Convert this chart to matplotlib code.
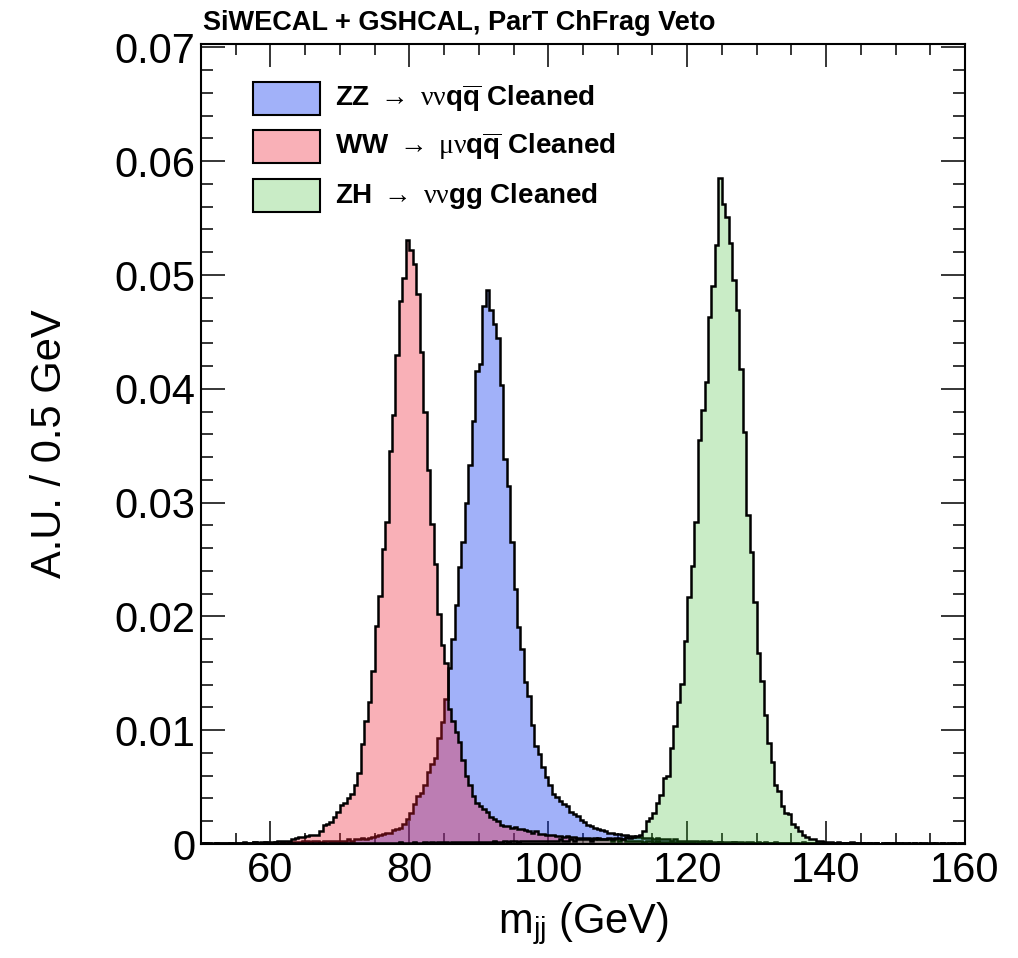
import numpy as np
import matplotlib
matplotlib.use("Agg")
import matplotlib.pyplot as plt
from matplotlib.patches import Rectangle
from matplotlib.ticker import FixedLocator, MultipleLocator

plt.rcParams['font.family'] = ['Liberation Sans', 'DejaVu Sans']
plt.rcParams['mathtext.fontset'] = 'custom'
plt.rcParams['mathtext.rm'] = 'Liberation Serif'
plt.rcParams['mathtext.it'] = 'Liberation Serif:italic'
plt.rcParams['mathtext.bf'] = 'Liberation Sans:bold'
plt.rcParams['mathtext.sf'] = 'Liberation Sans'

# ---------------- data (A.U. per 0.5 GeV bin, 50 -> 160 GeV) ----------------
x_min, x_max, bin_width = 50.0, 160.0, 0.5

ww_values = [
    0.0001, 0.0001, 0.0001, 0.0000, 0.0001, 0.0001, 0.0001, 0.0001, 0.0001, 0.0001,
    0.0001, 0.0001, 0.0002, 0.0001, 0.0001, 0.0002, 0.0001, 0.0002, 0.0002, 0.0002,
    0.0002, 0.0002, 0.0003, 0.0003, 0.0003, 0.0003, 0.0004, 0.0005, 0.0006, 0.0006,
    0.0007, 0.0008, 0.0008, 0.0008, 0.0011, 0.0017, 0.0018, 0.0019, 0.0024, 0.0028,
    0.0034, 0.0036, 0.0040, 0.0044, 0.0052, 0.0062, 0.0088, 0.0108, 0.0125, 0.0152,
    0.0192, 0.0218, 0.0259, 0.0283, 0.0345, 0.0377, 0.0430, 0.0477, 0.0497, 0.0531,
    0.0522, 0.0510, 0.0483, 0.0432, 0.0380, 0.0329, 0.0281, 0.0246, 0.0202, 0.0175,
    0.0159, 0.0119, 0.0108, 0.0098, 0.0090, 0.0074, 0.0060, 0.0052, 0.0042, 0.0036,
    0.0033, 0.0031, 0.0028, 0.0024, 0.0022, 0.0020, 0.0017, 0.0016, 0.0016, 0.0014,
    0.0015, 0.0013, 0.0013, 0.0012, 0.0011, 0.0010, 0.0011, 0.0009, 0.0009, 0.0008,
    0.0008, 0.0008, 0.0007, 0.0007, 0.0006, 0.0007, 0.0006, 0.0006, 0.0005, 0.0005,
    0.0005, 0.0005, 0.0004, 0.0005, 0.0004, 0.0004, 0.0004, 0.0004, 0.0003, 0.0004,
    0.0003, 0.0004, 0.0003, 0.0003, 0.0003, 0.0003, 0.0003, 0.0002, 0.0003, 0.0003,
    0.0002, 0.0003, 0.0002, 0.0002, 0.0002, 0.0002, 0.0002, 0.0002, 0.0002, 0.0002,
    0.0002, 0.0002, 0.0001, 0.0002, 0.0002, 0.0001, 0.0002, 0.0001, 0.0001, 0.0002,
    0.0001, 0.0001, 0.0001, 0.0002, 0.0001, 0.0001, 0.0001, 0.0001, 0.0001, 0.0001,
    0.0001, 0.0001, 0.0001, 0.0001, 0.0001, 0.0000, 0.0001, 0.0001, 0.0001, 0.0001,
    0.0001, 0.0001, 0.0000, 0.0001, 0.0001, 0.0001, 0.0001, 0.0000, 0.0001, 0.0001,
    0.0001, 0.0000, 0.0001, 0.0001, 0.0000, 0.0001, 0.0001, 0.0000, 0.0001, 0.0000,
    0.0001, 0.0000, 0.0001, 0.0000, 0.0001, 0.0000, 0.0000, 0.0001, 0.0000, 0.0001,
    0.0000, 0.0001, 0.0000, 0.0000, 0.0001, 0.0000, 0.0001, 0.0000, 0.0000, 0.0000,
    0.0001, 0.0000, 0.0000, 0.0001, 0.0000, 0.0000, 0.0001, 0.0000, 0.0000, 0.0000,
]

zz_values = [
    0.0001, 0.0001, 0.0001, 0.0001, 0.0001, 0.0001, 0.0001, 0.0001, 0.0000, 0.0001,
    0.0001, 0.0001, 0.0001, 0.0001, 0.0001, 0.0002, 0.0001, 0.0001, 0.0002, 0.0001,
    0.0001, 0.0002, 0.0001, 0.0002, 0.0002, 0.0002, 0.0002, 0.0002, 0.0002, 0.0003,
    0.0003, 0.0002, 0.0003, 0.0003, 0.0002, 0.0003, 0.0003, 0.0003, 0.0003, 0.0003,
    0.0003, 0.0003, 0.0004, 0.0003, 0.0004, 0.0004, 0.0005, 0.0004, 0.0005, 0.0006,
    0.0007, 0.0008, 0.0009, 0.0010, 0.0010, 0.0012, 0.0013, 0.0014, 0.0018, 0.0022,
    0.0027, 0.0035, 0.0042, 0.0045, 0.0052, 0.0063, 0.0070, 0.0076, 0.0093, 0.0107,
    0.0127, 0.0155, 0.0180, 0.0210, 0.0243, 0.0265, 0.0300, 0.0333, 0.0372, 0.0416,
    0.0422, 0.0473, 0.0487, 0.0469, 0.0457, 0.0445, 0.0403, 0.0338, 0.0315, 0.0265,
    0.0224, 0.0191, 0.0171, 0.0142, 0.0130, 0.0105, 0.0086, 0.0079, 0.0068, 0.0059,
    0.0052, 0.0044, 0.0041, 0.0038, 0.0035, 0.0033, 0.0028, 0.0026, 0.0025, 0.0021,
    0.0019, 0.0017, 0.0016, 0.0014, 0.0013, 0.0012, 0.0011, 0.0010, 0.0010, 0.0009,
    0.0009, 0.0008, 0.0008, 0.0007, 0.0007, 0.0006, 0.0006, 0.0005, 0.0005, 0.0005,
    0.0004, 0.0005, 0.0004, 0.0004, 0.0004, 0.0003, 0.0004, 0.0003, 0.0003, 0.0003,
    0.0003, 0.0003, 0.0003, 0.0002, 0.0003, 0.0002, 0.0003, 0.0002, 0.0002, 0.0002,
    0.0002, 0.0002, 0.0002, 0.0002, 0.0002, 0.0002, 0.0001, 0.0002, 0.0002, 0.0001,
    0.0002, 0.0001, 0.0002, 0.0001, 0.0001, 0.0002, 0.0001, 0.0001, 0.0001, 0.0001,
    0.0001, 0.0001, 0.0001, 0.0002, 0.0001, 0.0001, 0.0001, 0.0001, 0.0001, 0.0001,
    0.0001, 0.0001, 0.0001, 0.0000, 0.0001, 0.0001, 0.0001, 0.0001, 0.0000, 0.0001,
    0.0001, 0.0001, 0.0000, 0.0001, 0.0001, 0.0000, 0.0001, 0.0001, 0.0001, 0.0000,
    0.0001, 0.0000, 0.0001, 0.0001, 0.0000, 0.0001, 0.0000, 0.0001, 0.0001, 0.0000,
    0.0001, 0.0001, 0.0000, 0.0001, 0.0000, 0.0001, 0.0001, 0.0000, 0.0001, 0.0001,
]

zh_values = [
    0.0000, 0.0001, 0.0000, 0.0000, 0.0001, 0.0000, 0.0000, 0.0000, 0.0001, 0.0000,
    0.0000, 0.0000, 0.0001, 0.0000, 0.0000, 0.0001, 0.0000, 0.0000, 0.0001, 0.0000,
    0.0000, 0.0001, 0.0000, 0.0001, 0.0000, 0.0001, 0.0001, 0.0000, 0.0001, 0.0001,
    0.0001, 0.0000, 0.0001, 0.0001, 0.0001, 0.0001, 0.0000, 0.0001, 0.0001, 0.0001,
    0.0001, 0.0001, 0.0001, 0.0001, 0.0001, 0.0001, 0.0001, 0.0001, 0.0001, 0.0001,
    0.0001, 0.0001, 0.0001, 0.0001, 0.0001, 0.0001, 0.0001, 0.0002, 0.0001, 0.0001,
    0.0001, 0.0002, 0.0001, 0.0001, 0.0002, 0.0001, 0.0002, 0.0001, 0.0002, 0.0002,
    0.0002, 0.0001, 0.0002, 0.0002, 0.0002, 0.0002, 0.0002, 0.0002, 0.0002, 0.0002,
    0.0002, 0.0002, 0.0002, 0.0002, 0.0003, 0.0002, 0.0002, 0.0003, 0.0002, 0.0003,
    0.0003, 0.0002, 0.0003, 0.0003, 0.0003, 0.0003, 0.0003, 0.0003, 0.0003, 0.0003,
    0.0003, 0.0003, 0.0003, 0.0004, 0.0003, 0.0003, 0.0004, 0.0003, 0.0004, 0.0004,
    0.0004, 0.0004, 0.0003, 0.0004, 0.0005, 0.0004, 0.0004, 0.0005, 0.0004, 0.0005,
    0.0005, 0.0004, 0.0006, 0.0005, 0.0006, 0.0007, 0.0008, 0.0011, 0.0020, 0.0023,
    0.0027, 0.0036, 0.0043, 0.0058, 0.0060, 0.0084, 0.0104, 0.0125, 0.0141, 0.0178,
    0.0217, 0.0244, 0.0283, 0.0355, 0.0381, 0.0406, 0.0463, 0.0490, 0.0526, 0.0585,
    0.0562, 0.0551, 0.0528, 0.0496, 0.0469, 0.0417, 0.0362, 0.0289, 0.0257, 0.0213,
    0.0168, 0.0143, 0.0113, 0.0089, 0.0072, 0.0052, 0.0047, 0.0033, 0.0027, 0.0026,
    0.0018, 0.0015, 0.0011, 0.0008, 0.0006, 0.0004, 0.0004, 0.0003, 0.0003, 0.0002,
    0.0002, 0.0002, 0.0001, 0.0002, 0.0001, 0.0001, 0.0001, 0.0002, 0.0001, 0.0001,
    0.0001, 0.0001, 0.0001, 0.0001, 0.0001, 0.0000, 0.0001, 0.0001, 0.0000, 0.0001,
    0.0001, 0.0000, 0.0001, 0.0001, 0.0000, 0.0001, 0.0000, 0.0001, 0.0001, 0.0000,
    0.0000, 0.0001, 0.0001, 0.0000, 0.0001, 0.0000, 0.0001, 0.0000, 0.0001, 0.0001,
]

series_labels = [
    r'ZZ $\rightarrow$ $\mathrm{\nu\nu}\mathbf{q}\overline{\mathbf{q}}$ Cleaned',
    r'WW $\rightarrow$ $\mathrm{\mu\nu}\mathbf{q}\overline{\mathbf{q}}$ Cleaned',
    r'ZH $\rightarrow$ $\mathrm{\nu\nu}\mathbf{gg}$ Cleaned',
]
x_ticks = [60, 80, 100, 120, 140, 160]
x_tick_labels = ['60', '80', '100', '120', '140', '160']
y_ticks = [0.0, 0.01, 0.02, 0.03, 0.04, 0.05, 0.06, 0.07]
y_tick_labels = ['0', '0.01', '0.02', '0.03', '0.04', '0.05', '0.06', '0.07']
title_text = 'SiWECAL + GSHCAL, ParT ChFrag Veto'
x_label = r'm$_{\mathsf{jj}}$ (GeV)'
y_label = 'A.U. / 0.5 GeV'

# ---------------- style ----------------
zz_rgba = (20/255, 60/255, 240/255, 0.40)
ww_rgba = (240/255, 30/255, 50/255, 0.35)
zh_rgba = (50/255, 185/255, 35/255, 0.26)

W, H = 1018, 958
fig = plt.figure(figsize=(W/100, H/100), dpi=100)
ax_l, ax_r, ax_t, ax_b = 201, 965, 44, 844
ax = fig.add_axes([ax_l/W, 1 - ax_b/H, (ax_r-ax_l)/W, (ax_b-ax_t)/H])

edges = np.arange(x_min, x_max + bin_width/2, bin_width)
series = [(zz_values, zz_rgba), (ww_values, ww_rgba), (zh_values, zh_rgba)]
z = 1.0
for vals, rgba in series:
    ax.stairs(vals, edges, fill=True, facecolor=rgba, edgecolor='none',
              linewidth=0, zorder=z)
    ax.stairs(vals, edges, color='black', linewidth=1.8, zorder=z + 0.05)
    z += 0.1

ax.set_xlim(x_min, x_max)
ax.set_ylim(0, 0.0703)
ax.set_axisbelow(True)

ax.xaxis.set_major_locator(FixedLocator(x_ticks))
ax.set_xticklabels(x_tick_labels)
ax.xaxis.set_minor_locator(MultipleLocator(5))
ax.yaxis.set_major_locator(FixedLocator(y_ticks))
ax.set_yticklabels(y_tick_labels)
ax.yaxis.set_minor_locator(MultipleLocator(0.002))

ax.tick_params(which='both', direction='in', top=True, right=True, width=1.1,
               color='black')
ax.tick_params(axis='x', which='major', length=16.5, labelsize=30, pad=5)
ax.tick_params(axis='x', which='minor', length=8)
ax.tick_params(axis='y', which='major', length=17.5, labelsize=30, pad=4)
ax.tick_params(axis='y', which='minor', length=8.5)
for sp in ax.spines.values():
    sp.set_linewidth(1.5)

ax.set_xlabel(x_label, fontsize=30)
ax.xaxis.set_label_coords(0.5, -0.071)
ax.set_ylabel(y_label, fontsize=30)
ax.yaxis.set_label_coords(-0.172, 0.5)

fig.text(203/W, 1 - 30/H, title_text, fontsize=19.5, fontweight='bold',
         ha='left', va='baseline')

# legend (manual, ROOT-like boxes)
box_x, box_w, box_h = 0.068, 0.0877, 0.042
rows_y = [0.932, 0.872, 0.8105]
for (vals, rgba), lab, yc in zip(series, series_labels, rows_y):
    ax.add_patch(Rectangle((box_x, yc - box_h/2), box_w, box_h,
                           transform=ax.transAxes, facecolor=rgba,
                           edgecolor='black', linewidth=1.5, zorder=5))
    ax.text(0.1754, yc, lab, transform=ax.transAxes, fontsize=20,
            fontweight='bold', ha='left', va='center', zorder=5)

fig.savefig('out.png', dpi=100)
